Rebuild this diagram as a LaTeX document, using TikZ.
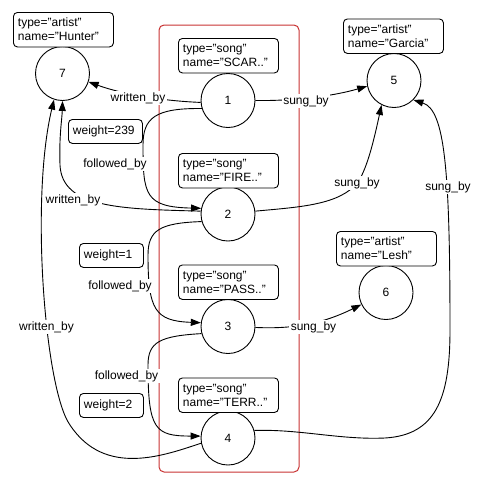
\documentclass[tikz,border=0pt]{standalone}
\usepackage{fontspec}
\setmainfont{Liberation Sans}
\usetikzlibrary{arrows.meta}
\definecolor{framered}{RGB}{200,50,50}
\begin{document}
\begin{tikzpicture}[x=1pt,y=-1pt,
  txt/.style={font=\fontsize{12}{14}\selectfont},
  circ/.style={txt, circle, draw, line width=0.9pt, minimum size=54pt, inner sep=0pt},
  info/.style={txt, draw, fill=white, rounded corners=4pt, line width=0.9pt, anchor=north west,
     text width=91pt, inner xsep=4.5pt, inner ysep=0pt, minimum height=34.5pt, align=left},
  wbox/.style={txt, draw, fill=white, rounded corners=4pt, line width=0.9pt, anchor=north west,
     inner xsep=4.5pt, inner ysep=0pt, minimum height=24pt, align=left},
  elabel/.style={txt, fill=white, inner xsep=1.5pt, inner ysep=1pt},
  edge/.style={line width=0.9pt, -{Triangle[length=10pt,width=7pt]}},
  container/.style={draw=framered, line width=1pt, rounded corners=5pt, minimum width=140pt, minimum height=447pt, inner sep=0pt}
]
\useasboundingbox (0,0) rectangle (485,483);
\node[container] (grp) at (229,248.5) {};

% circles
\node[circ] (n7) at (62.5,73.5) {7};
\node[circ] (n1) at (228,100.5) {1};
\node[circ] (n2) at (228,214) {2};
\node[circ] (n3) at (228,326.5) {3};
\node[circ] (n4) at (228,438) {4};
\node[circ] (n5) at (394,80.5) {5};
\node[circ] (n6) at (386,292.5) {6};

% info boxes
\node[info] (b7) at (13,12) {type="artist"\\name="Hunter"};
\node[info] (b1) at (178,38) {type="song"\\name="SCAR.."};
\node[info] (b2) at (178,153) {type="song"\\name="FIRE.."};
\node[info] (b3) at (178,264.5) {type="song"\\name="PASS.."};
\node[info] (b4) at (178,377.5) {type="song"\\name="TERR.."};
\node[info] (b5) at (343,18.5) {type="artist"\\name="Garcia"};
\node[info] (b6) at (336,231) {type="artist"\\name="Lesh"};

% weight boxes
\node[wbox, text width=65pt] (w1) at (68,119) {weight=239};
\node[wbox, text width=55pt] (w2) at (79,243) {weight=1};
\node[wbox, text width=55pt] (w3) at (79,393) {weight=2};

% edges
\draw[edge] (n1.184) .. controls (165,101) and (125,95) .. (n7.342);
\draw[edge] (n1.197) .. controls (155,108) and (143,118) .. (143,145)
   .. controls (143,195) and (145,207) .. (n2.168);
\draw[edge] (n2.174) .. controls (120,209) and (62,208) .. (60,165)
   .. controls (59,135) and (62,120) .. (n7.270);
\draw[edge] (n2.196) .. controls (160,223) and (148,230) .. (148,255)
   .. controls (148,310) and (155,321) .. (n3.172);
\draw[edge] (n3.195) .. controls (160,336) and (148,342) .. (148,365)
   .. controls (148,430) and (155,436) .. (n4.176);
\draw[edge] (n4.191) .. controls (165,455) and (105,478) .. (70,425)
   .. controls (45,390) and (30,200) .. (n7.252);
\draw[edge] (n1.0) .. controls (290,101) and (330,97) .. (n5.192);
\draw[edge] (n2.6) .. controls (300,207) and (340,205) .. (358,182)
   .. controls (368,167) and (375,135) .. (n5.243);
\draw[edge] (n4.16) .. controls (300,429) and (340,440) .. (385,438)
   .. controls (435,435) and (450,400) .. (450,330)
   .. controls (450,170) and (445,110) .. (n5.315);
\draw[edge] (n3.358) .. controls (290,329) and (320,325) .. (n6.206);

% edge labels
\node[elabel] (l1) at (138,98) {written\_by};
\node[elabel] (l2) at (115,164) {followed\_by};
\node[elabel] (l3) at (73,200) {written\_by};
\node[elabel] (l4) at (306,101) {sung\_by};
\node[elabel] (l5) at (357,183) {sung\_by};
\node[elabel] (l6) at (448,187) {sung\_by};
\node[elabel] (l7) at (120,286) {followed\_by};
\node[elabel] (l8) at (313.5,327) {sung\_by};
\node[elabel] (l9) at (126.5,376) {followed\_by};
\node[elabel] (l10) at (46.5,327) {written\_by};
\end{tikzpicture}
\end{document}
